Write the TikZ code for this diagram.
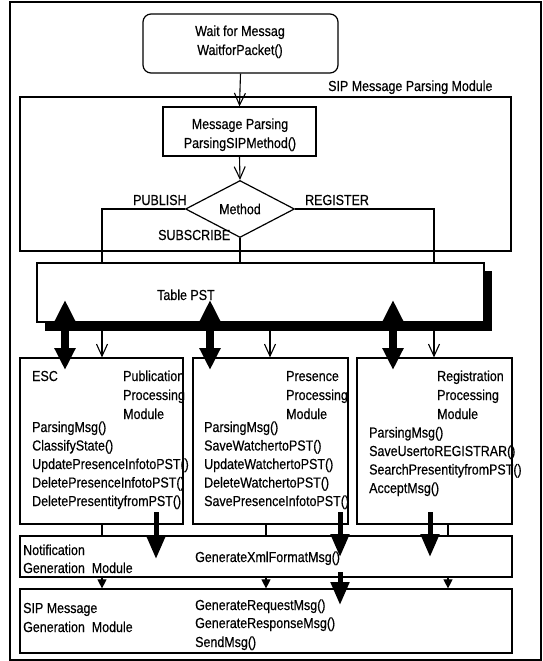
\documentclass[tikz,border=0pt]{standalone}
\usepackage{fontspec}
\setmainfont{Liberation Sans}[FakeStretch=0.86,FakeBold=0.5]
\usetikzlibrary{shapes.geometric,arrows.meta}
\newcommand\fsz{\fontsize{14.5}{19}\selectfont}
\begin{document}
\begin{tikzpicture}[x=1pt,y=-1pt,
  box/.style={draw, rectangle, line width=1.2pt, inner sep=0pt},
  t/.style={anchor=base west, inner sep=0pt, font=\fsz},
  tc/.style={anchor=base, inner sep=0pt, font=\fsz},
  conn/.style={line width=1.1pt},
  openarr/.style={line width=1.1pt, -{Straight Barb[length=12pt,width=11pt]}},
  smallarr/.style={line width=1.1pt, -{Triangle[length=9pt,width=9pt]}},
  bigdbl/.style={line width=8pt, {Triangle[width=20pt,length=22pt]}-{Triangle[width=20pt,length=22pt]}},
  bigdown/.style={line width=5pt, -{Triangle[width=18pt,length=23pt]}}
]
\useasboundingbox (0,0) rectangle (543,661);
% outer frame
\draw[line width=1.3pt] (10,2) rectangle (541,660);

% wait box
\node[box, rounded corners=8pt, minimum width=195pt, minimum height=59pt] (wait) at (240.5,43.5) {};
\node[tc] (w1) at (240,36) {Wait for Messag};
\node[tc] (w2) at (240,55) {WaitforPacket()};
\node[t] (sipparse) at (328,91) {SIP Message Parsing Module};

% parsing module frame
\node[box, minimum width=491pt, minimum height=154pt] (pmod) at (265.5,174) {};
\node[box, minimum width=153pt, minimum height=49pt] (parse) at (239.5,131.5) {};
\node[tc] (p1) at (240,129) {Message Parsing};
\node[tc] (p2) at (240,148) {ParsingSIPMethod()};
\node[draw, diamond, aspect=2, line width=1.2pt, inner sep=0pt, minimum width=109pt, minimum height=57pt, font=\fsz] (m) at (240,209) {Method};
\node[t] (lpub) at (133,205) {PUBLISH};
\node[t] (lreg) at (305,205) {REGISTER};
\node[t] (lsub) at (158,240) {SUBSCRIBE};

\draw[openarr] (wait.south) -- (parse.north);
\draw[openarr] (parse.south) -- (m.north);

% x positions
\coordinate (xa) at (102,0);
\coordinate (xp) at (270,0);
\coordinate (xr) at (434,0);
\coordinate (xq) at (266,0);
\coordinate (xs) at (448,0);

% table PST with shadow
\fill (45,271) rectangle (492,331);
\node[box, fill=white, minimum width=447pt, minimum height=59pt] (pst) at (260.5,292.5) {};
\node[t] (pstt) at (157,300) {Table PST};

\draw[conn] (m.west) -- (xa |- m.west) -- (xa |- pst.north);
\draw[conn] (m.east) -- (xr |- m.east) -- (xr |- pst.north);
\draw[conn] (m.south) -- (m.south |- pst.north);

% module boxes
\node[box, minimum width=163pt, minimum height=166pt] (pub) at (101.5,441) {};
\node[box, minimum width=155pt, minimum height=166pt] (pres) at (270.5,441) {};
\node[box, minimum width=155pt, minimum height=166pt] (reg) at (434.5,441) {};

% thick double arrows
\coordinate (u1) at (65,300); \coordinate (d1) at (65,370);
\coordinate (u2) at (210,300); \coordinate (d2) at (210,370);
\coordinate (u3) at (393,300); \coordinate (d3) at (393,370);
\draw[bigdbl] (u1) -- (d1);
\draw[bigdbl] (u2) -- (d2);
\draw[bigdbl] (u3) -- (d3);

% thin arrows table -> modules
\draw[openarr] (xa |- pst.south) -- (xa |- pub.north);
\draw[openarr] (xp |- pst.south) -- (xp |- pres.north);
\draw[openarr] (xr |- pst.south) -- (xr |- reg.north);

% publication texts
\node[t] (esc) at (32,381) {ESC};
\node[t] (pb1) at (123,381) {Publication};
\node[t] (pb2) at (123,400) {Processing};
\node[t] (pb3) at (123,419) {Module};
\node[t] (pm1) at (32,432) {ParsingMsg()};
\node[t] (pm2) at (32,450.5) {ClassifyState()};
\node[t] (pm3) at (32,469) {UpdatePresenceInfotoPST()};
\node[t] (pm4) at (32,487.5) {DeletePresenceInfotoPST()};
\node[t] (pm5) at (32,506) {DeletePresentityfromPST()};

% presence texts
\node[t] (pr1) at (286,381) {Presence};
\node[t] (pr2) at (286,400) {Processing};
\node[t] (pr3) at (286,419) {Module};
\node[t] (qm1) at (204,432) {ParsingMsg()};
\node[t] (qm2) at (204,450.5) {SaveWatchertoPST()};
\node[t] (qm3) at (204,469) {UpdateWatchertoPST()};
\node[t] (qm4) at (204,487.5) {DeleteWatchertoPST()};
\node[t] (qm5) at (204,506) {SavePresenceInfotoPST()};

% registration texts
\node[t] (rg1) at (437,381) {Registration};
\node[t] (rg2) at (437,400) {Processing};
\node[t] (rg3) at (437,419) {Module};
\node[t] (rm1) at (369,437.5) {ParsingMsg()};
\node[t] (rm2) at (369,456) {SaveUsertoREGISTRAR()};
\node[t] (rm3) at (369,474.5) {SearchPresentityfromPST()};
\node[t] (rm4) at (369,493) {AcceptMsg()};

% notification module
\node[box, minimum width=492pt, minimum height=41pt] (notif) at (266,556.5) {};
\node[t] (n1) at (23,555) {Notification};
\node[t] (n2) at (23,573) {Generation\ \ Module};
\node[t] (n3) at (195,562) {GenerateXmlFormatMsg()};

\draw[conn] (xa |- pub.south) -- (xa |- notif.north);
\draw[conn] (xq |- pres.south) -- (xq |- notif.north);
\draw[conn] (xs |- reg.south) -- (xs |- notif.north);

% SIP message generation module
\node[box, minimum width=492pt, minimum height=64pt] (gen) at (266,621) {};
\node[t] (g1) at (23,613) {SIP Message};
\node[t] (g2) at (23,632) {Generation\ \ Module};
\node[t] (g3) at (195,610) {GenerateRequestMsg()};
\node[t] (g4) at (195,628) {GenerateResponseMsg()};
\node[t] (g5) at (195,647) {SendMsg()};

\draw[smallarr] (xa |- notif.south) -- (xa |- gen.north);
\draw[smallarr] (xq |- notif.south) -- (xq |- gen.north);
\draw[smallarr] (xs |- notif.south) -- (xs |- gen.north);

% thick down arrows
\coordinate (s1) at (156,512); \coordinate (e1) at (156,559);
\coordinate (s2) at (340,512); \coordinate (e2) at (340,557);
\coordinate (s3) at (430,512); \coordinate (e3) at (430,557);
\coordinate (s4) at (340,572); \coordinate (e4) at (340,605);
\draw[bigdown] (s1) -- (e1);
\draw[bigdown] (s2) -- (e2);
\draw[bigdown] (s3) -- (e3);
\draw[bigdown] (s4) -- (e4);
\end{tikzpicture}
\end{document}
